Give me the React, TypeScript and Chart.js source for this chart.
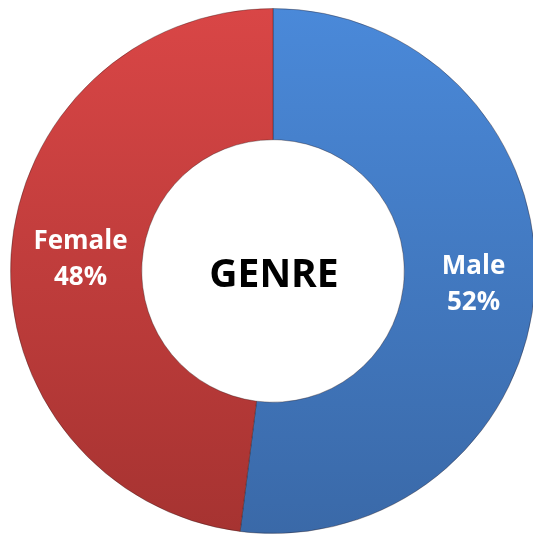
import React, { useEffect, useRef } from "react";
import { Chart, registerables } from "chart.js";

Chart.register(...registerables);

const categories = ["Male", "Female"];
const values = [52, 48];
const percentLabels = ["52%", "48%"];
const centerTitle = "GENRE";

const gradients = [
  ["#4A89D9", "#3A69A8"],
  ["#D94646", "#A63331"],
];

const labelPlugin = {
  id: "sliceLabels",
  afterDatasetsDraw(chart: any) {
    const ctx = chart.ctx;
    const meta = chart.getDatasetMeta(0);
    ctx.save();
    ctx.fillStyle = "#ffffff";
    ctx.textAlign = "center";
    ctx.textBaseline = "middle";
    ctx.font = "bold 26px 'Open Sans', sans-serif";
    meta.data.forEach((arc: any, i: number) => {
      const p = arc.tooltipPosition();
      ctx.fillText(categories[i], p.x + 4, p.y - 17);
      ctx.fillText(percentLabels[i], p.x + 4, p.y + 19);
    });
    const first = meta.data[0];
    ctx.fillStyle = "#000000";
    ctx.font = "bold 39px 'Open Sans', sans-serif";
    ctx.fillText(centerTitle, first.x + 1, first.y + 5);
    ctx.restore();
  },
};

export default function App() {
  const ref = useRef<HTMLCanvasElement>(null);
  useEffect(() => {
    if (!ref.current) return;
    const chart = new Chart(ref.current, {
      type: "doughnut",
      data: {
        labels: categories,
        datasets: [
          {
            data: values,
            backgroundColor: (c: any) => {
              const area = c.chart.chartArea;
              if (!area) return gradients[c.dataIndex][0];
              const g = c.chart.ctx.createLinearGradient(0, area.top, 0, area.bottom);
              g.addColorStop(0, gradients[c.dataIndex][0]);
              g.addColorStop(1, gradients[c.dataIndex][1]);
              return g;
            },
            borderColor: "rgba(40,20,20,0.35)",
            borderWidth: 1,
          },
        ],
      },
      options: {
        animation: false,
        responsive: true,
        maintainAspectRatio: false,
        cutout: "50%",
        rotation: 0,
        layout: { padding: 0 },
        plugins: {
          legend: { display: false },
          tooltip: { enabled: false },
        },
      },
      plugins: [labelPlugin],
    });
    return () => chart.destroy();
  }, []);
  return (
    <div style={{ position: "absolute", left: 10, top: 8, width: 526, height: 526 }}>
      <canvas ref={ref} />
    </div>
  );
}
